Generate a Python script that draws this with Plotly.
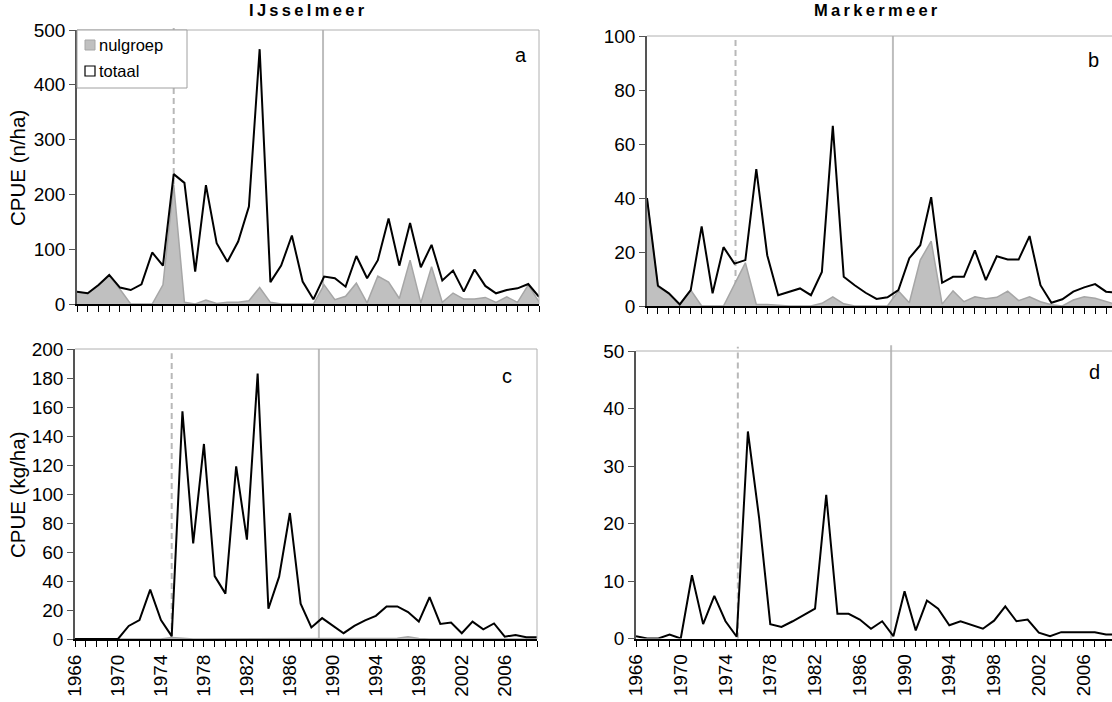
import plotly.graph_objects as go

# ---- data -------------------------------------------------------------
years = list(range(1966, 2010))

# IJsselmeer, numbers per hectare
ijssel_totaal = [22.5, 19.5, 34.7, 53, 30, 25.5, 36, 94, 70, 237,
                 221, 59, 217, 111, 77, 114, 178, 465, 40, 70,
                 125, 41, 8.5, 50, 47, 31.6, 87.6, 47, 80, 156,
                 70, 148, 67, 108, 43, 61, 22.5, 63, 33, 19.5,
                 25.5, 28.6, 36.5, 13]
ijssel_nulgroep = [22, 19, 34, 52, 27, 0, 0, 0, 35, 218,
                   3, 0, 7, 1, 3, 3, 6, 30, 3, 0,
                   0, 0, 0, 35, 8, 14, 38, 2, 51, 40,
                   10, 80, 2, 68, 3, 20, 9, 9, 12, 3,
                   13, 3, 35, 4]

# IJsselmeer, kg per hectare
ijssel_kg_totaal = [0, 0, 0, 0, 0, 9, 13, 34, 13, 2,
                    157, 66, 134.5, 43.4, 31.3, 119, 68.5, 183, 20.9, 43,
                    86.9, 24.4, 8, 14.4, 9, 4, 9, 12.8, 16, 22.5,
                    22.5, 18.6, 12, 28.8, 10.4, 11.4, 4, 12, 6.7, 10.7,
                    1.6, 2.8, 1.2, 1.2]
ijssel_kg_nulgroep = [0, 0, 0, 0, 0, 0, 0, 0, 0, 1,
                      0.3, 0, 0, 0, 0, 0, 0, 0, 0, 0,
                      0, 0, 0, 0, 0, 0, 0, 0, 0, 0,
                      0.5, 1.5, 0.3, 0, 0, 0, 0, 0, 0, 0,
                      0, 0, 0, 0]

# Markermeer, numbers per hectare
marker_totaal = [40, 7.5, 4.7, 0.6, 5.9, 29.5, 4.7, 21.8, 15.7, 17,
                 50.7, 18.8, 4, 5.3, 6.5, 4, 12.6, 66.7, 10.8, 7.7,
                 4.9, 2.6, 3.2, 5.9, 17.7, 22.5, 40.3, 8.6, 10.8, 10.8,
                 20.6, 9.6, 18.4, 17.2, 17.2, 25.9, 7.7, 1.2, 2.5, 5.3,
                 6.9, 8.1, 5.3, 4.9]
marker_nulgroep = [40, 7, 4.7, 0.6, 5.9, 0, 0, 0, 8, 16,
                   0.6, 0.6, 0.3, 0, 0, 0, 1, 3.4, 0.8, 0,
                   0, 0, 0, 5.6, 1.2, 17, 24, 0.7, 5.6, 1.6,
                   3.4, 2.7, 3.2, 5.5, 2, 3.4, 1.6, 0.5, 0, 2.2,
                   3.4, 2.9, 1.6, 0.5]

# Markermeer, kg per hectare
marker_kg_totaal = [0.4, 0, 0, 0.7, 0, 11, 2.5, 7.4, 3, 0.3,
                    36, 21, 2.5, 2, 3, 4.1, 5.2, 25, 4.3, 4.3,
                    3.3, 1.7, 3, 0.4, 8.2, 1.4, 6.6, 5.2, 2.3, 3,
                    2.3, 1.7, 3.1, 5.6, 3, 3.3, 1, 0.4, 1.1, 1.1,
                    1.1, 1.1, 0.7, 0.7]

panel_letters = ["a", "b", "c", "d"]
y_ranges = [500, 100, 200, 50]
y_dticks = [100, 20, 20, 10]
# reference years marked by a dashed and a solid vertical line per panel
dashed_years = [1975, 1974.1, 1975, 1975.1]
solid_years = [1988.9, 1988.5, 1988.7, 1988.8]

# ---- layout helpers ---------------------------------------------------
W, H = 1112, 702
FONT = "Arial, Liberation Sans, sans-serif"
GREY_FILL = "#c0c0c0"
GREY_EDGE = "#a6a6a6"
FRAME = "#b0b0b0"
TICK_SIZE = 19


def fx(px):
    return px / W


def fy(py):
    return 1 - py / H


# pixel boxes (left, right, top, bottom) and the year shown at the right edge
boxes = [
    (77, 539, 30, 304, 2009),
    (647, 1112, 36, 306, 1966 + (1112 - 647) / 10.93),
    (75, 537, 349, 639, 2009),
    (636, 1112, 351, 638.5, 1966 + (1112 - 636) / 11.19),
]

fig = go.Figure()


def area(x, y, ax):
    fig.add_trace(go.Scatter(
        x=x, y=y, mode="lines", fill="tozeroy", fillcolor=GREY_FILL,
        line=dict(color=GREY_EDGE, width=1.5), showlegend=False,
        xaxis="x" + ax, yaxis="y" + ax, hoverinfo="skip"))


def line(x, y, ax):
    fig.add_trace(go.Scatter(
        x=x, y=y, mode="lines", line=dict(color="black", width=2),
        showlegend=False, xaxis="x" + ax, yaxis="y" + ax))


area(years, ijssel_nulgroep, "")
line(years, ijssel_totaal, "")
area(years, marker_nulgroep, "2")
line(years, marker_totaal, "2")
area(years, ijssel_kg_nulgroep, "3")
line(years, ijssel_kg_totaal, "3")
line(years, marker_kg_totaal, "4")

layout = dict(
    width=W, height=H, margin=dict(l=0, r=0, t=0, b=0),
    paper_bgcolor="white", plot_bgcolor="white",
    font=dict(family=FONT, size=17, color="black"),
    showlegend=False,
)

shapes = []
annotations = []
dashed_tops = [1.02, 1.0, 0.985, 1.015]
solid_tops = [1.0, 1.0, 1.0, 1.02]

for i, (l, r, t, b, xend) in enumerate(boxes):
    sfx = "" if i == 0 else str(i + 1)
    ref = "" if i == 0 else str(i + 1)
    bottom_row = i >= 2
    layout["xaxis" + sfx] = dict(
        domain=[fx(l), fx(r)], range=[1966, xend], anchor="y" + ref,
        tickmode="linear", tick0=1966, dtick=4,
        ticks="outside", ticklen=6, tickwidth=1, tickcolor="black",
        minor=dict(dtick=1, tick0=1966, ticks="outside", ticklen=6,
                   tickwidth=1, tickcolor="black"),
        showline=True, linecolor="black", linewidth=2,
        showgrid=False, zeroline=False, automargin=False,
        showticklabels=bottom_row, tickangle=-90,
        tickfont=dict(size=TICK_SIZE),
    )
    layout["yaxis" + sfx] = dict(
        domain=[fy(b), fy(t)], range=[0, y_ranges[i]], anchor="x" + ref,
        dtick=y_dticks[i], tick0=0, ticks="outside", ticklen=6,
        tickcolor="#555555", showline=True, linecolor="#555555",
        linewidth=1.5, showgrid=False, zeroline=False, automargin=False,
        tickfont=dict(size=TICK_SIZE),
    )
    xr = "x" + ref
    yd = "y" + ref + " domain"
    xd = "x" + ref + " domain"
    # frame: top edge, and right edge where the panel is not cut off
    shapes.append(dict(type="line", xref=xd, yref=yd, x0=0, x1=1, y0=1, y1=1,
                       line=dict(color=FRAME, width=1)))
    if xend == 2009:
        shapes.append(dict(type="line", xref=xd, yref=yd, x0=1, x1=1,
                           y0=0, y1=1, line=dict(color=FRAME, width=1)))
    shapes.append(dict(type="line", xref=xr, yref=yd,
                       x0=dashed_years[i], x1=dashed_years[i],
                       y0=0, y1=dashed_tops[i], layer="below",
                       line=dict(color="#b8b8b8", width=2, dash="6px,4px")))
    shapes.append(dict(type="line", xref=xr, yref=yd,
                       x0=solid_years[i], x1=solid_years[i],
                       y0=0, y1=solid_tops[i], layer="below",
                       line=dict(color="#bdbdbd", width=2)))

layout["xaxis"]["anchor"] = "y"
layout["yaxis"]["anchor"] = "x"

# panel letters
letter_pos = [(521, 55), (1093, 60), (507, 376), (1094, 372)]
for letter, (px, py) in zip(panel_letters, letter_pos):
    annotations.append(dict(text=letter, x=fx(px), y=fy(py), xref="paper",
                            yref="paper", showarrow=False, xanchor="center",
                            yanchor="middle", font=dict(size=20)))

# lake titles, letter-spaced bold
for name, px in [("IJsselmeer", 307), ("Markermeer", 876)]:
    annotations.append(dict(text="<b>" + "\u2009".join(name) + "</b>",
                            x=fx(px), y=fy(10), xref="paper", yref="paper",
                            showarrow=False, xanchor="center",
                            yanchor="middle", font=dict(size=16.5)))

# y-axis titles
for text, py in [("CPUE (n/ha)", 168), ("CPUE (kg/ha)", 495)]:
    annotations.append(dict(text=text, x=fx(17), y=fy(py), xref="paper",
                            yref="paper", showarrow=False, textangle=-90,
                            xanchor="center", yanchor="middle",
                            font=dict(size=20.5)))

# legend box inside panel a
shapes.append(dict(type="rect", xref="paper", yref="paper",
                   x0=fx(77), x1=fx(187), y0=fy(88), y1=fy(30),
                   fillcolor="white", line=dict(color="#a0a0a0", width=1)))
shapes.append(dict(type="rect", xref="paper", yref="paper",
                   x0=fx(85), x1=fx(95), y0=fy(50), y1=fy(40),
                   fillcolor=GREY_FILL, line=dict(color=GREY_EDGE, width=1)))
shapes.append(dict(type="rect", xref="paper", yref="paper",
                   x0=fx(85), x1=fx(95), y0=fy(76), y1=fy(66),
                   fillcolor="white", line=dict(color="black", width=1.2)))
for text, py in [("nulgroep", 45), ("totaal", 71)]:
    annotations.append(dict(text=text, x=fx(97), y=fy(py), xref="paper",
                            yref="paper", showarrow=False, xanchor="left",
                            yanchor="middle", font=dict(size=16.5)))

layout["shapes"] = shapes
layout["annotations"] = annotations
fig.update_layout(**layout)
fig.write_html("out.html")
